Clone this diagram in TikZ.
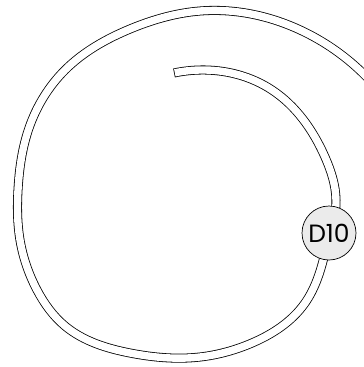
\documentclass[tikz,border=0pt]{standalone}
\usepackage{fontspec}
\newfontfamily\stationFont{Poppins}
\usetikzlibrary{calc, hobby}

\begin{document}
\begin{tikzpicture}[x=1pt, y=-1pt, use Hobby shortcut]

    % Define the track and station looks
    \definecolor{borderColour}{HTML}{000000}
    \definecolor{fillColour}{HTML}{EBEBEB}
    \def\trackWidth{9}

    \tikzset{
        trackOuter/.style={line width=\trackWidth pt, draw=borderColour},
        trackInner/.style={line width=\trackWidth pt-1.6pt, draw=white},
        station/.style={circle, draw=borderColour, fill=fillColour, line width=0.7pt,
            minimum size=54pt, inner sep=0pt, font=\stationFont\fontsize{25}{25}\selectfont},
    }

    % Fix the picture size
    \useasboundingbox (0,0) rectangle (364,367);

    % Define the ends of the track
    \coordinate (trackStart) at (174,73);
    \coordinate (trackEnd) at (375,86);

    % Station
    \coordinate (D10pos) at (329,233);

    % Inner part of the track, up to the station
    \def\innerTrack{(trackStart) .. (200,70) .. (272,90) .. (325,157) .. (336,200) .. (D10pos)}
    \draw[trackOuter] \innerTrack;
    \draw[trackInner, shorten <=0.8pt] \innerTrack;

    % Outer loop, from the station out of the picture
    \def\outerTrack{(D10pos) .. (324,257) .. (305,303) .. (252,343) .. (200,357)
        .. (130,353) .. (65,326) .. (37,290) .. (20,240) .. (18,190) .. (29,128)
        .. (65,70) .. (130,29) .. (200,11) .. (298,29) .. (trackEnd)}
    \draw[trackOuter] \outerTrack;
    \draw[trackInner] \outerTrack;

    % Draw the station on top
    \node[station] (D10) at (D10pos) {D10};

\end{tikzpicture}
\end{document}
